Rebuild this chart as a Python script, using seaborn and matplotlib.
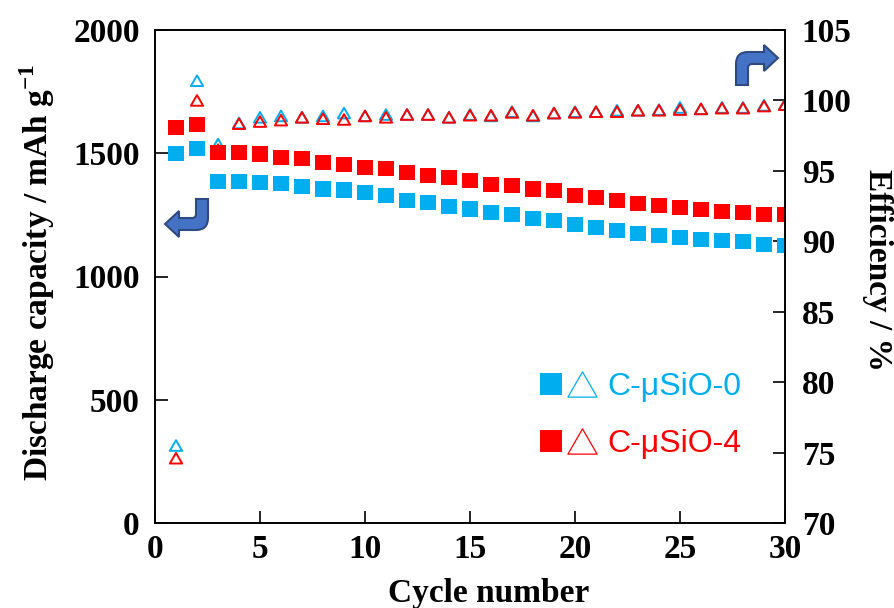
import numpy as np
import pandas as pd
import matplotlib
matplotlib.use("Agg")
import matplotlib.pyplot as plt
import seaborn as sns
from matplotlib.path import Path
from matplotlib.patches import PathPatch
from matplotlib.legend_handler import HandlerTuple
from matplotlib.lines import Line2D

# cycle numbers
cycles = list(range(1, 31))

# discharge capacity / mAh g-1
cap_0 = [1500, 1521, 1386, 1386, 1382, 1378, 1364, 1355, 1351, 1341,
         1328, 1308, 1301, 1284, 1274, 1260, 1250, 1236, 1226, 1212,
         1199, 1188, 1174, 1168, 1158, 1151, 1145, 1141, 1131, 1125]
cap_4 = [1603, 1617, 1504, 1504, 1497, 1484, 1477, 1464, 1454, 1443,
         1437, 1423, 1409, 1400, 1389, 1375, 1369, 1355, 1348, 1330,
         1321, 1310, 1297, 1287, 1280, 1270, 1262, 1260, 1252, 1252]

# coulombic efficiency / %
eff_0 = [75.5, 101.4, 96.9, 98.4, 98.8, 98.9, 98.8, 98.9, 99.1, 98.9,
         99.0, 99.0, 99.0, 98.8, 99.0, 98.9, 99.2, 98.9, 99.1, 99.2,
         99.2, 99.3, 99.3, 99.35, 99.5, 99.4, 99.5, 99.5, 99.65, 99.7]
eff_4 = [74.6, 100.0, 96.5, 98.35, 98.5, 98.6, 98.8, 98.7, 98.65, 98.9,
         98.8, 99.0, 99.0, 98.8, 98.95, 98.95, 99.15, 98.95, 99.1, 99.15,
         99.2, 99.2, 99.3, 99.3, 99.35, 99.4, 99.45, 99.45, 99.6, 99.7]

samples = ["C-\u03bcSiO-0", "C-\u03bcSiO-4"]
colors = {"C-\u03bcSiO-0": "#00AEEF", "C-\u03bcSiO-4": "#FF0000"}

df = pd.DataFrame({
    "cycle": cycles * 2,
    "capacity": cap_0 + cap_4,
    "efficiency": eff_0 + eff_4,
    "sample": [samples[0]] * 30 + [samples[1]] * 30,
})

sns.set_theme(style="ticks")
plt.rcParams["font.family"] = ["Liberation Serif", "DejaVu Serif"]
plt.rcParams["mathtext.fontset"] = "custom"
plt.rcParams["mathtext.rm"] = "Liberation Serif:bold"
plt.rcParams["mathtext.bf"] = "Liberation Serif:bold"
for k in ("text.color", "axes.labelcolor", "xtick.color", "ytick.color",
          "axes.edgecolor"):
    plt.rcParams[k] = "black"

# closed equilateral triangle marker, centred on its bounding box
tri = Path([(0, 0.433), (-0.5, -0.433), (0.5, -0.433), (0, 0.433)],
           [Path.MOVETO, Path.LINETO, Path.LINETO, Path.CLOSEPOLY])

fig = plt.figure(figsize=(8.95, 6.08), dpi=100)
ax = fig.add_axes([155 / 895, 1 - 523 / 608, 630 / 895, 493 / 608])
ax2 = ax.twinx()

# capacity: filled squares
for s in samples:
    sub = df[df["sample"] == s]
    sns.scatterplot(data=sub, x="cycle", y="capacity", marker="s", s=118,
                    color=colors[s], edgecolor="none", linewidth=0, ax=ax,
                    legend=False)

# efficiency: open triangles
for s in samples:
    sub = df[df["sample"] == s]
    sns.scatterplot(data=sub, x="cycle", y="efficiency", marker=tri, s=78,
                    color=colors[s], ax=ax2, legend=False)
    coll = ax2.collections[-1]
    coll.set_facecolor("none")
    coll.set_edgecolor(colors[s])
    coll.set_linewidth(1.4)

# squares sit above the triangles
ax.set_zorder(ax2.get_zorder() + 1)
ax.patch.set_visible(False)

ax.set_xlim(0, 30)
ax.set_ylim(0, 2000)
ax2.set_ylim(70, 105)
ax.set_xticks(range(0, 31, 5))
ax.set_yticks(range(0, 2001, 500))
ax2.set_yticks(range(70, 106, 5))

for a in (ax, ax2):
    for sp in a.spines.values():
        sp.set_visible(True)
        sp.set_linewidth(1.2)
        sp.set_color("black")
ax.tick_params(axis="y", direction="in", length=9, width=1.2,
               labelsize=24, pad=11)
ax.tick_params(axis="x", direction="in", length=9, width=1.2,
               labelsize=24, pad=8)
ax2.tick_params(axis="y", direction="in", length=9, width=1.2,
                labelsize=24, pad=12)
for lab in ax.get_xticklabels() + ax.get_yticklabels() + ax2.get_yticklabels():
    lab.set_fontweight("bold")

ax.set_xlabel("Cycle number", fontsize=24, fontweight="bold")
ax.xaxis.set_label_coords(0.529, -0.111)
ax.set_ylabel("Discharge capacity / mAh g$^{-1}$", fontsize=24,
              fontweight="bold")
ax.yaxis.set_label_coords(-0.156, 0.508)
ax2.set_ylabel("Efficiency / %", fontsize=24, fontweight="bold",
               rotation=-90, va="bottom")
ax2.yaxis.set_label_coords(1.122, 0.513)

# legend: filled square + open triangle per sample
handles = []
for s in samples:
    sq = Line2D([], [], marker="s", ls="none", ms=16.5, color=colors[s],
                markeredgewidth=0)
    tr = Line2D([], [], marker=tri, ls="none", ms=21, mfc="none",
                mec=colors[s], markeredgewidth=0.9)
    handles.append((sq, tr))
leg = ax.legend(handles, samples,
                handler_map={tuple: HandlerTuple(ndivide=None, pad=0.15)},
                loc="center left", bbox_to_anchor=(0.5625, 0.218),
                frameon=False, prop={"family": "Liberation Sans", "size": 23},
                handlelength=1.8, handletextpad=0.37, labelspacing=0.85)
for txt, s in zip(leg.get_texts(), samples):
    txt.set_color(colors[s])


def bent_arrow(pts, codes):
    verts = [(x / 895, 1 - y / 608) for x, y in pts]
    p = PathPatch(Path(verts, codes), transform=fig.transFigure,
                  facecolor="#4472C4", edgecolor="#2F4A80", lw=1.5,
                  zorder=10)
    fig.patches.append(p)


M, L, C, Z = Path.MOVETO, Path.LINETO, Path.CURVE3, Path.CLOSEPOLY
# left arrow (points to capacity axis)
bent_arrow([(196, 199), (208, 199), (208, 218), (208, 230), (196, 230),
            (179, 230), (179, 237), (165, 224), (179, 211), (179, 218),
            (192, 218), (196, 218), (196, 214), (196, 199)],
           [M, L, L, C, C, L, L, L, L, L, L, C, C, Z])
# right arrow (points to efficiency axis)
bent_arrow([(736, 85), (736, 64), (736, 52), (748, 52), (764, 52),
            (764, 45), (778, 58), (764, 71), (764, 64), (752, 64),
            (748, 64), (748, 68), (748, 85), (736, 85)],
           [M, L, C, C, L, L, L, L, L, L, C, C, L, Z])

fig.savefig("out.png", dpi=100)
